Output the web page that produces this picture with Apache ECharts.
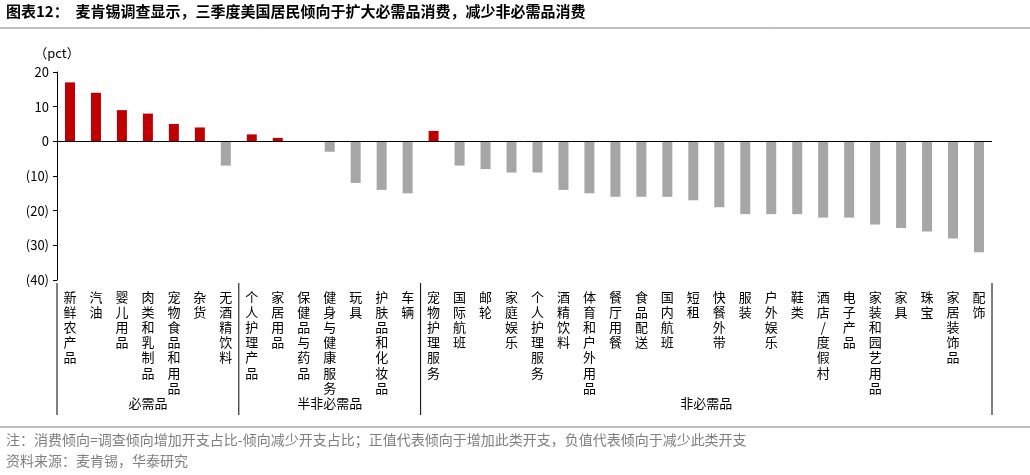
<!DOCTYPE html>
<html><head><meta charset="utf-8">
<script src="https://cdn.jsdelivr.net/npm/echarts@6/dist/echarts.min.js"></script>
<style>body{margin:0;background:#fff}#chart{width:1030px;height:475px}</style>
</head><body><div id="chart"></div>
<script>
const categories = ['新鲜农产品','汽油','婴儿用品','肉类和乳制品','宠物食品和用品','杂货','无酒精饮料','个人护理产品','家居用品','保健品与药品','健身与健康服务','玩具','护肤品和化妆品','车辆','宠物护理服务','国际航班','邮轮','家庭娱乐','个人护理服务','酒精饮料','体育和户外用品','餐厅用餐','食品配送','国内航班','短租','快餐外带','服装','户外娱乐','鞋类','酒店/度假村','电子产品','家装和园艺用品','家具','珠宝','家居装饰品','配饰'];
const values = [17,14,9,8,5,4,-7,2,1,0,-3,-12,-14,-15,3,-7,-8,-9,-9,-14,-15,-16,-16,-16,-17,-19,-21,-21,-21,-22,-22,-24,-25,-26,-28,-32];
const groups = ['必需品','半非必需品','非必需品'];
const groupSizes = [7,7,22];

const chart = echarts.init(document.getElementById('chart'));
const font = '"Noto Sans CJK SC", sans-serif';
chart.setOption({
  textStyle:{fontFamily:font},
  grid:{left:57,right:38,top:72,bottom:195},
  xAxis:{type:'category',data:categories,
    axisLine:{show:false},axisTick:{show:false},
    axisLabel:{interval:0,color:'#000',fontSize:13,lineHeight:15.2,verticalAlign:'top',margin:9,
      formatter:v=>v.split('').join('\n')}},
  yAxis:{type:'value',min:-40,max:20,interval:10,
    axisLine:{show:true,lineStyle:{color:'#000'}},axisTick:{show:true,length:4,inside:false},
    splitLine:{show:false},
    axisLabel:{color:'#000',fontSize:13,formatter:v=>v<0?'('+(-v)+')':v},
    name:'（pct）',nameLocation:'end',nameGap:12,nameTextStyle:{color:'#000',fontSize:13,align:'center'}},
  series:[{type:'bar',barWidth:10,
    data:values.map(v=>({value:v,itemStyle:{color:v>=0?'#C00000':'#A6A6A6'}})),
    markLine:{silent:true,symbol:'none',label:{show:false},lineStyle:{color:'#000',type:'solid',width:1},data:[{yAxis:0}]}}],
  animation:false
});

const g = [
  {type:'text',left:6,top:4,style:{text:'图表12：  麦肯锡调查显示，三季度美国居民倾向于扩大必需品消费，减少非必需品消费',font:'bold 15px '+font,fill:'#000'}},
  {type:'line',shape:{x1:0,y1:28,x2:1030,y2:28},style:{stroke:'#7f7f7f',lineWidth:1}},
  {type:'line',shape:{x1:0,y1:427,x2:1030,y2:427},style:{stroke:'#7f7f7f',lineWidth:1}},
  {type:'text',left:6,top:433,style:{text:'注：消费倾向=调查倾向增加开支占比-倾向减少开支占比；正值代表倾向于增加此类开支，负值代表倾向于减少此类开支',font:'14px '+font,fill:'#7f7f7f'}},
  {type:'text',left:6,top:454,style:{text:'资料来源：麦肯锡，华泰研究',font:'14px '+font,fill:'#7f7f7f'}}
];
const step = chart.convertToPixel({xAxisIndex:0},categories[1]) - chart.convertToPixel({xAxisIndex:0},categories[0]);
let start = 0;
const x0 = chart.convertToPixel({xAxisIndex:0},categories[0]) - step/2;
const bounds=[x0];
groupSizes.forEach((n,i)=>{
  const a = x0 + start*step, b = x0 + (start+n)*step;
  bounds.push(b);
  g.push({type:'text',x:(a+b)/2,y:397,style:{text:groups[i],font:'13px '+font,fill:'#000',textAlign:'center'}});
  start += n;
});
bounds.forEach(x=>g.push({type:'line',shape:{x1:x,y1:283,x2:x,y2:415},style:{stroke:'#000',lineWidth:1}}));
chart.setOption({graphic:g});
</script></body></html>
